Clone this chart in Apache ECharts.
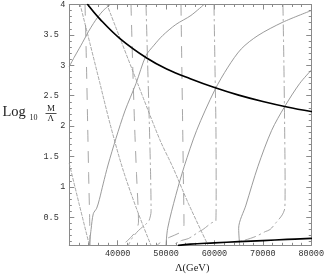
<!DOCTYPE html>
<html><head><meta charset="utf-8">
<script src="https://cdn.jsdelivr.net/npm/echarts@6/dist/echarts.min.js"></script>
<style>html,body{margin:0;padding:0;background:#fff}#c{width:327px;height:276px}</style>
</head><body><div id="c"></div>
<script>
const xTicks = [40000, 50000, 60000, 70000, 80000];
const yTicks = [0.5, 1, 1.5, 2, 2.5, 3, 3.5, 4];

// thick black curves
const thickUpper = [[33800,4.0],[36340,3.76],[40470,3.44],[45990,3.12],[50120,2.94],[55000,2.78],[60000,2.635],[65000,2.51],[70000,2.405],[75000,2.315],[80000,2.24]];
const thickLower = [[52600,0.04],[55000,0.06],[60000,0.08],[65000,0.1],[70000,0.118],[75000,0.136],[80000,0.155]];

// thin solid gray curves
const solid1 = [[30000,2.98],[31000,3.13],[32000,3.27],[32770,3.38],[34000,3.56],[35000,3.69],[35870,3.79],[37000,3.9],[38620,4.01]];
const solid2 = [[34130,0.04],[34500,0.3],[34960,0.56],[35660,0.65],[36200,0.79],[37000,1.05],[38000,1.36],[39650,1.80],[41500,2.25],[43780,2.70],[45850,3.16],[47500,3.33],[49300,3.49],[52000,3.67],[55140,3.82],[57970,4.01]];
const solid3 = [[49980,0.04],[50330,0.32],[52000,0.86],[53760,1.34],[56320,1.93],[60040,2.59],[62790,2.97],[65540,3.27],[68990,3.49],[74150,3.71],[80000,3.90]];
const solid4 = [[65200,0.04],[65000,0.32],[66500,0.70],[68990,1.34],[71820,1.93],[74500,2.32],[77600,2.70],[80000,2.92]];

// short-dashed diagonal curves
const dash0 = [[30000,1.38],[32000,0.73],[34150,0.04]];
const dash1 = [[32210,4.01],[34300,3.35],[36340,2.70],[38410,2.04],[41030,1.30],[44000,0.62],[46880,0.04]];
const dash2 = [[37730,4.01],[44130,2.70],[48740,1.77],[51360,1.33],[54600,0.73],[58670,0.04]];

// long-dashed / dot-dashed near-vertical curves
const long1 = [[33250,4],[33550,3],[33800,2],[34000,1.2],[34200,0.5],[34300,0.04]];
const long2 = [[42750,4.0],[43100,3.0],[43500,2.0],[43900,1.2],[44250,0.6],[44300,0.42],[43450,0.24],[42070,0.12],[40830,0.04]];
const long3 = [[45850,4],[46200,3],[46550,2],[46800,1.2],[46900,0.6],[46500,0.45],[45990,0.40],[44260,0.28],[43000,0.16],[42200,0.04]];
const long4 = [[53080,4],[53250,3],[53430,2],[53600,1.0],[53700,0.4],[53500,0.3],[52660,0.24],[50800,0.175],[49420,0.12],[48100,0.04]];
const long5 = [[59900,4],[60100,3],[60300,2],[60350,1],[60300,0.45],[59340,0.406],[57620,0.30],[56940,0.27],[54590,0.15],[53220,0.12],[51500,0.05]];
const long6 = [[74150,4],[74350,3],[74500,2],[74600,1],[74550,0.66],[74000,0.54],[72800,0.42],[71500,0.30],[70500,0.265],[68500,0.185],[66300,0.125],[64900,0.095]];

const yMinor = [];
for (let i = 1; i < 40; i++) { if (i % 5 !== 0) yMinor.push(i / 10); }

const frame = '#8a8a8a';
const monoFont = 'Liberation Mono';
const YMIN = 0.04, YMAX = 4;

function ln(data, color, width, type, z, sm) {
  return { type: 'line', data: data, showSymbol: false, symbol: 'none', smooth: sm || 0.3, z: z || 2,
    lineStyle: { color: color, width: width, type: type || 'solid', cap: 'round', join: 'round' }, silent: true, animation: false };
}

function xAx(pos, labels) {
  return { type: 'value', min: 30000, max: 80000, interval: 10000, position: pos,
    axisLine: { show: true, onZero: false, lineStyle: { color: frame, width: 1 } },
    axisTick: { show: true, inside: true, length: 5, lineStyle: { color: frame, width: 1 } },
    minorTick: { show: true, splitNumber: 5, length: 2.5, lineStyle: { color: frame, width: 1 } },
    splitLine: { show: false }, minorSplitLine: { show: false },
    axisLabel: { show: labels, margin: 4, fontFamily: monoFont, fontSize: 8.5, color: '#333',
      formatter: v => xTicks.includes(v) ? String(v) : '' } };
}
function yAx(pos, vals, len, labels, line) {
  return { type: 'value', min: YMIN, max: YMAX, position: pos,
    axisLine: { show: line, onZero: false, lineStyle: { color: frame, width: 1 } },
    axisTick: { show: true, inside: true, length: len, customValues: vals, lineStyle: { color: frame, width: 1 } },
    splitLine: { show: false },
    axisLabel: { show: labels, customValues: vals, margin: 4, fontFamily: monoFont, fontSize: 8.5, color: '#333',
      formatter: v => Number.isInteger(v) ? String(v) : '{d|' + v + '}',
      rich: { d: { fontFamily: monoFont, fontSize: 8.5, color: '#333', padding: [0, 6.5, 0, 0] } } } };
}

const chart = echarts.init(document.getElementById('c'), null, { renderer: 'canvas' });
const gray = '#8f8f8f', dgray = '#9c9c9c';
chart.setOption({
  animation: false,
  backgroundColor: '#fff',
  grid: { left: 69.3, right: 15.7, top: 3.5, bottom: 30.7, containLabel: false },
  xAxis: [xAx('bottom', true), xAx('top', false)],
  yAxis: [yAx('left', yTicks, 5, true, true), yAx('left', yMinor, 2.5, false, false),
          yAx('right', yTicks, 5, false, true), yAx('right', yMinor, 2.5, false, false)],
  series: [
    ln(solid1, gray, 0.9), ln(solid2, gray, 0.9), ln(solid3, gray, 0.9), ln(solid4, gray, 0.9),
    ln(dash0, dgray, 0.9, [3, 2]), ln(dash1, dgray, 0.9, [3, 2]), ln(dash2, dgray, 0.9, [3, 2]),
    ln(long1, dgray, 0.9, [11, 10]), ln(long2, dgray, 0.9, [11, 10]), ln(long3, dgray, 0.9, [11, 4, 1.5, 4]),
    ln(long4, dgray, 0.9, [11, 10]), ln(long5, dgray, 0.9, [11, 4, 1.5, 4]), ln(long6, dgray, 0.9, [11, 4, 1.5, 4]),
    ln(thickUpper, '#000', 1.7, 'solid', 5, 0.4), ln(thickLower, '#000', 1.7, 'solid', 5, 0.4)
  ],
  graphic: [
    { type: 'text', left: 2.5, top: 105, style: { text: 'Log', font: '14.5px "Liberation Serif"', fill: '#222' } },
    { type: 'text', left: 29.5, top: 113.5, style: { text: '10', font: '8px "Liberation Serif"', fill: '#222' } },
    { type: 'text', left: 47, top: 104, style: { text: 'M', font: '9px "Liberation Serif"', fill: '#222' } },
    { type: 'line', shape: { x1: 45.5, y1: 113.5, x2: 56.5, y2: 113.5 }, style: { stroke: '#222', lineWidth: 0.8 } },
    { type: 'text', left: 47.5, top: 114, style: { text: 'Λ', font: '9px "Liberation Serif"', fill: '#222' } },
    { type: 'text', left: 175, top: 263, style: { text: 'Λ(GeV)', font: '10.5px "Liberation Serif"', fill: '#222' } }
  ]
});
</script>
</body></html>
